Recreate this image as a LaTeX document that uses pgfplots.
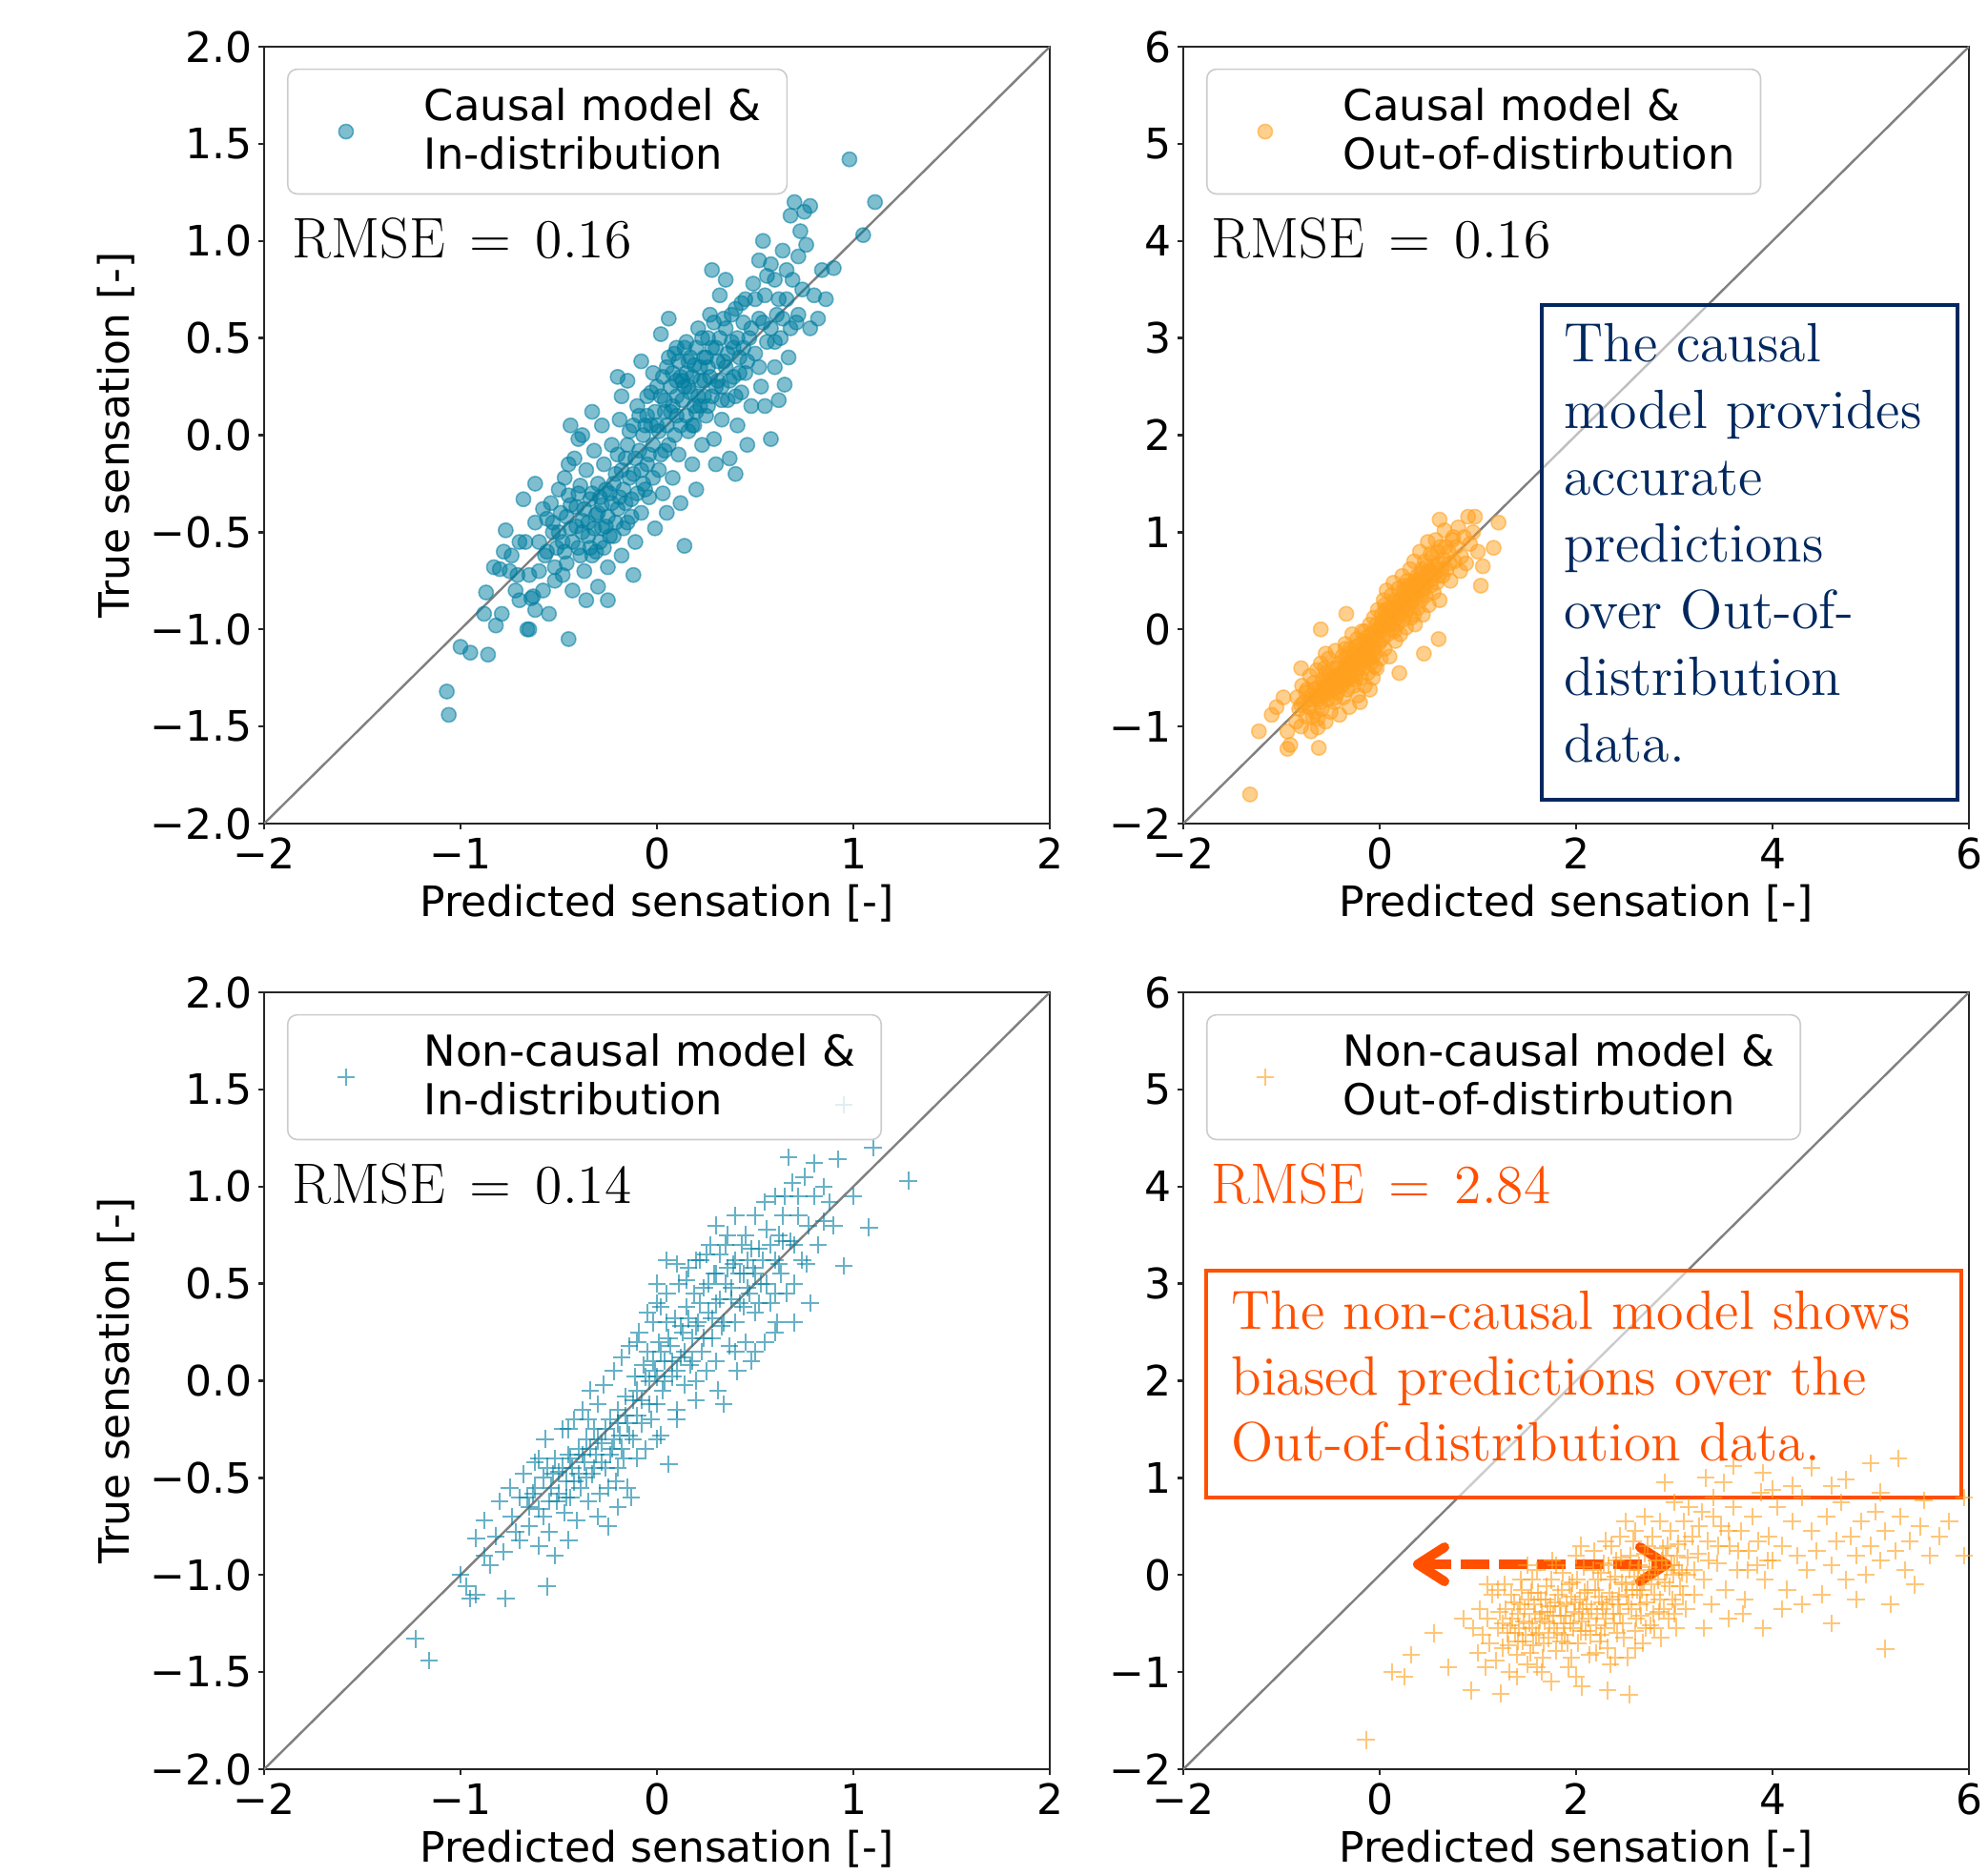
\documentclass[border=0pt]{standalone}
\usepackage{fontspec}
\newfontfamily\dejavu{DejaVu Sans}
\usepackage{pgfplots}
\pgfplotsset{compat=1.18}
\usetikzlibrary{arrows.meta}

\definecolor{cblue}{RGB}{0,125,160}
\definecolor{corange}{RGB}{255,160,30}
\definecolor{redor}{RGB}{255,80,0}
\definecolor{navy}{RGB}{0,40,95}
\definecolor{diag}{RGB}{128,128,128}

\tikzset{rmse/.style={anchor=west, font=\fontsize{15}{17}\selectfont}}

\pgfplotsset{
  panel/.style={
    scale only axis, width=206pt, height=203.75pt,
    axis line style={line width=0.6pt, black!85},
    tick align=outside, major tick length=1.5pt,
    tick style={black!85, line width=0.6pt},
    tick pos=left,
    ticklabel style={font=\dejavu\fontsize{11}{13}\selectfont},
    yticklabel style={xshift=1.8pt},
    xticklabel style={yshift=1.3pt},
    label style={font=\dejavu\fontsize{11}{13}\selectfont},
    xlabel={Predicted sensation [-]},
    xlabel style={at={(axis description cs:0.5,-0.103)}, anchor=center},
    legend cell align=left,
    legend style={at={(0.029,0.972)}, anchor=north west, draw=black!20,
      rounded corners=2.5pt, fill=white, fill opacity=0.8, draw opacity=1,
      text opacity=1, inner xsep=4.8pt, inner ysep=3pt,
      font=\dejavu\fontsize{11.2}{12.7}\selectfont, cells={align=left}},
    legend image code/.code={
      \path[draw=none, fill=none] (0pt,0pt) rectangle (29pt,0pt);
      \draw[mark repeat=2,mark phase=2] plot coordinates {(0pt,0pt) (10.5pt,0pt) (29pt,0pt)};},
  },
  leftpanel/.style={panel, xmin=-2, xmax=2, ymin=-2, ymax=2,
    xtick={-2,-1,0,1,2}, xticklabels={−2,−1,0,1,2},
    ytick={-2,-1.5,-1,-0.5,0,0.5,1,1.5,2},
    yticklabels={−2.0,−1.5,−1.0,−0.5,0.0,0.5,1.0,1.5,2.0},
    ylabel={True sensation [-]},
    ylabel style={at={(axis description cs:-0.188,0.5)}, anchor=center}},
  rightpanel/.style={panel, xmin=-2, xmax=6, ymin=-2, ymax=6,
    xtick={-2,0,2,4,6}, xticklabels={−2,0,2,4,6},
    ytick={-2,-1,0,1,2,3,4,5,6}, yticklabels={−2,−1,0,1,2,3,4,5,6}},
  bluedot/.style={only marks, mark=*, mark size=1.9pt,
    mark options={draw=cblue, fill=cblue, fill opacity=0.5, draw opacity=0.55, line width=0.4pt}},
  orangedot/.style={only marks, mark=*, mark size=1.9pt,
    mark options={draw=corange, fill=corange, fill opacity=0.5, draw opacity=0.55, line width=0.4pt}},
  blueplus/.style={only marks, mark=+, mark size=2.3pt,
    mark options={draw=cblue, draw opacity=0.6, line width=0.5pt}},
  orangeplus/.style={only marks, mark=+, mark size=2.3pt,
    mark options={draw=corange, draw opacity=0.6, line width=0.5pt}},
}

\begin{document}
\begin{tikzpicture}
\path[use as bounding box] (0,0) rectangle (521.25pt,-491.75pt);

% causal, in-distribution
\begin{axis}[leftpanel, at={(69.25pt,-12.25pt)}, anchor=north west]
\addplot[diag, line width=0.6pt, forget plot] coordinates {(-2,-2) (2,2)};
\addplot[bluedot] coordinates {
(-1.07,-1.32) (-1.06,-1.44) (-1.00,-1.09) (-0.95,-1.12) (-0.86,-1.13) (-0.83,-0.68) (-0.80,-0.69) (-0.88,-0.92) (-0.82,-0.98) (-0.78,-0.60)
(-0.87,-0.81) (-0.79,-0.92) (-0.65,-1.00) (-0.63,-0.83)
(-0.74,-0.62) (-0.72,-0.80) (-0.70,-0.55) (-0.66,-1.00) (-0.64,-0.84) (-0.62,-0.45) (-0.60,-0.70) (-0.58,-0.38) (-0.57,-0.62) (-0.55,-0.92)
(-0.53,-0.50) (-0.52,-0.75) (-0.50,-0.28) (-0.68,-0.33) (-0.62,-0.25) (-0.56,-0.43) (-0.51,-0.58) (-0.77,-0.49) (-0.71,-0.72) (-0.45,-1.05)
(-0.49,-0.40) (-0.48,-0.55) (-0.47,-0.22) (-0.46,-0.66) (-0.45,-0.31) (-0.44,-0.48) (-0.43,-0.80) (-0.42,-0.12) (-0.41,-0.37) (-0.40,-0.58)
(-0.39,-0.26) (-0.38,-0.44) (-0.37,-0.70) (-0.36,-0.18) (-0.35,-0.52) (-0.34,-0.33) (-0.33,-0.62) (-0.32,-0.08) (-0.31,-0.41) (-0.30,-0.25)
(-0.29,-0.55) (-0.28,-0.36) (-0.27,-0.15) (-0.26,-0.47) (-0.25,-0.68) (-0.36,-0.85) (-0.30,-0.78) (-0.44,0.05) (-0.40,-0.02) (-0.33,0.12)
(-0.24,-0.30) (-0.23,-0.05) (-0.22,-0.52) (-0.21,-0.20) (-0.20,-0.38) (-0.19,0.08) (-0.18,-0.62) (-0.17,-0.28) (-0.16,-0.12) (-0.15,-0.45)
(-0.14,0.02) (-0.13,-0.33) (-0.12,-0.20) (-0.11,-0.55) (-0.10,0.15) (-0.09,-0.08) (-0.08,-0.40) (-0.07,-0.25) (-0.06,0.05) (-0.05,-0.15)
(-0.04,-0.32) (-0.03,0.22) (-0.02,-0.05) (-0.01,-0.48) (-0.20,0.30) (-0.15,0.28) (-0.08,0.38) (-0.12,-0.72) (-0.05,0.10) (-0.02,0.32)
(0.00,0.05) (0.01,-0.18) (0.02,0.20) (0.03,-0.30) (0.04,0.12) (0.05,0.35) (0.06,-0.05) (0.07,0.25) (0.08,-0.22) (0.09,0.42)
(0.10,0.10) (0.11,-0.10) (0.12,0.30) (0.13,0.18) (0.14,-0.57) (0.15,0.48) (0.16,0.02) (0.17,0.22) (0.18,-0.15) (0.19,0.36)
(0.20,0.12) (0.21,0.55) (0.22,0.28) (0.23,-0.05) (0.24,0.40) (0.02,0.52) (0.06,0.60) (0.10,0.45) (0.14,0.25) (0.18,0.05)
(0.22,0.15) (0.12,-0.35) (0.20,-0.28) (0.08,0.15) (0.16,0.38) (0.24,0.20) (0.04,-0.08) (0.10,0.28) (0.15,0.32) (0.19,0.15)
(0.25,0.10) (0.26,0.35) (0.27,0.62) (0.28,0.20) (0.29,-0.02) (0.30,0.45) (0.31,0.28) (0.32,0.72) (0.33,0.08) (0.34,0.38)
(0.35,0.55) (0.36,0.18) (0.37,-0.12) (0.38,0.48) (0.39,0.30) (0.40,0.65) (0.41,0.05) (0.42,0.40) (0.43,0.22) (0.44,0.58)
(0.45,0.32) (0.46,-0.05) (0.47,0.50) (0.48,0.15) (0.49,0.78) (0.28,0.85) (0.35,0.80) (0.30,-0.15) (0.40,-0.20) (0.45,0.70)
(0.26,0.50) (0.33,0.25)
(0.50,0.42) (0.52,0.60) (0.53,0.25) (0.55,0.72) (0.56,0.48) (0.58,0.88) (0.60,0.35) (0.61,0.62) (0.63,0.50) (0.64,0.95)
(0.66,0.70) (0.67,0.40) (0.69,0.80) (0.70,1.20) (0.71,0.58) (0.73,1.05) (0.74,0.75) (0.55,0.15) (0.58,-0.02) (0.62,0.18)
(0.65,0.26) (0.52,0.90) (0.60,0.80) (0.72,0.92) (0.68,1.13) (0.75,1.15) (0.72,0.62) (0.54,1.00)
(0.76,0.98) (0.78,1.18) (0.80,0.72) (0.82,0.60) (0.84,0.85) (0.90,0.86) (0.98,1.42) (1.05,1.03) (1.11,1.20) (0.78,0.55) (0.86,0.70)
(-0.46,-0.42) (-0.44,-0.36) (-0.43,-0.55) (-0.41,-0.47) (-0.40,-0.30) (-0.39,-0.62) (-0.38,-0.50) (-0.37,-0.38) (-0.35,-0.45) (-0.34,-0.58)
(-0.33,-0.30) (-0.32,-0.48) (-0.31,-0.60) (-0.30,-0.40) (-0.29,-0.32) (-0.28,-0.48) (-0.27,-0.58) (-0.26,-0.28) (-0.25,-0.42) (-0.24,-0.52)
(-0.23,-0.35) (-0.22,-0.25) (-0.21,-0.45) (-0.20,-0.10) (-0.19,-0.32) (-0.18,-0.18) (-0.17,-0.48) (-0.16,-0.35) (-0.15,-0.05) (-0.14,-0.22)
(-0.13,-0.42) (-0.12,0.05) (-0.11,-0.12) (-0.10,-0.30) (-0.09,0.10) (-0.08,-0.18) (-0.07,0.00) (-0.06,-0.28) (-0.05,0.20) (-0.04,-0.10)
(-0.03,0.05) (-0.02,-0.22) (-0.01,0.12) (0.00,0.25) (0.01,0.02) (0.02,-0.10) (0.03,0.30) (0.04,0.18) (0.05,0.05) (0.06,0.40)
(0.07,0.12) (0.08,0.32) (0.09,0.00) (0.10,0.20) (0.11,0.38) (0.12,0.05) (0.13,0.28) (0.14,0.45) (0.15,0.10) (0.16,0.25)
(0.17,0.40) (0.18,0.30) (0.19,0.05) (0.20,0.45) (0.21,0.20) (0.22,0.35) (0.23,0.50) (0.24,0.28) (0.25,0.40) (0.26,0.15)
(0.27,0.30) (0.28,0.45) (0.29,0.58) (0.30,0.25) (0.31,0.38) (0.32,0.50) (0.33,0.18) (0.34,0.60) (0.35,0.35) (0.36,0.42)
(0.37,0.28) (0.38,0.62) (0.39,0.45) (0.40,0.20) (0.41,0.50) (0.42,0.32) (0.43,0.68) (0.44,0.45) (0.46,0.38) (0.48,0.55)
(0.50,0.70) (0.52,0.35) (0.54,0.58) (0.56,0.82) (0.58,0.55) (0.60,0.48) (0.62,0.70) (0.64,0.60) (0.66,0.85) (0.68,0.55)
(-0.60,-0.55) (-0.58,-0.80) (-0.56,-0.60) (-0.54,-0.35) (-0.52,-0.68) (-0.50,-0.50) (-0.48,-0.72) (-0.47,-0.60) (-0.53,-0.45) (-0.65,-0.72)
(-0.70,-0.85) (-0.75,-0.70) (-0.67,-0.55) (-0.62,-0.90) (-0.45,-0.15) (-0.38,0.00) (-0.28,0.05) (-0.25,-0.85) (-0.18,0.20) (0.05,-0.40)
};
\addlegendentry{Causal model \&\\In-distribution}
\node[rmse] at (rel axis cs:0.019,0.753) {$\mathrm{RMSE} \mkern3mu=\mkern3mu 0.16$};
\end{axis}

% causal, out-of-distribution
\begin{axis}[rightpanel, at={(310.25pt,-12.25pt)}, anchor=north west]
\addplot[diag, line width=0.6pt, forget plot] coordinates {(-2,-2) (6,6)};
\addplot[orangedot] coordinates {
(-1.32,-1.70) (-1.23,-1.05) (-0.94,-1.05) (-0.94,-1.23) (-0.91,-1.19) (-0.63,-1.01) (-0.62,-1.22) (-0.34,0.16) (0.61,1.13) (0.90,1.16)
(0.97,1.16) (1.21,1.10) (1.16,0.84) (1.03,0.45) (0.82,0.60) (1.05,0.65) (-1.05,-0.80) (-1.10,-0.88) (-0.98,-0.70) (-0.80,-0.40)
(-0.55,-0.25) (-0.60,0.00) (-0.35,-0.30) (0.60,-0.10) (0.45,-0.25) (-0.20,-0.75) (-0.10,-0.62) (0.20,-0.45)
(-0.85,-0.95) (-0.84,-0.70) (-0.82,-0.82) (-0.80,-1.00) (-0.79,-0.58)
(-0.77,-0.75) (-0.75,-0.90) (-0.74,-0.62) (-0.72,-0.80) (-0.71,-0.48) (-0.70,-1.05) (-0.69,-0.68)
(-0.67,-0.55) (-0.66,-0.85) (-0.65,-0.70) (-0.64,-0.42) (-0.63,-0.92) (-0.62,-0.60) (-0.61,-0.75) (-0.60,-0.35)
(-0.59,-0.82) (-0.58,-0.52) (-0.57,-0.65) (-0.56,-0.40) (-0.55,-0.95) (-0.54,-0.58) (-0.53,-0.72) (-0.52,-0.30) (-0.51,-0.48) (-0.50,-0.85)
(-0.49,-0.62) (-0.48,-0.40) (-0.47,-0.55) (-0.46,-0.75) (-0.45,-0.22) (-0.44,-0.50) (-0.43,-0.65) (-0.42,-0.35) (-0.41,-0.88) (-0.40,-0.45)
(-0.39,-0.58) (-0.38,-0.28) (-0.37,-0.70) (-0.36,-0.42) (-0.35,-0.15) (-0.34,-0.52) (-0.33,-0.62) (-0.32,-0.35) (-0.31,-0.80) (-0.30,-0.20)
(-0.29,-0.48) (-0.28,-0.05)
(-0.27,-0.38) (-0.26,-0.58) (-0.25,-0.25) (-0.24,-0.45) (-0.23,-0.10) (-0.22,-0.68) (-0.21,-0.32) (-0.20,-0.15) (-0.19,-0.50) (-0.18,-0.02)
(-0.17,-0.40) (-0.16,-0.22)
(-0.15,-0.58) (-0.14,-0.30) (-0.13,-0.08) (-0.12,-0.45) (-0.11,-0.18) (-0.10,0.05) (-0.09,-0.35) (-0.08,-0.12) (-0.07,-0.50) (-0.06,0.12)
(-0.05,-0.25) (-0.04,-0.02) (-0.03,-0.40) (-0.02,0.20) (-0.01,-0.15)
(0.00,0.02) (0.01,-0.30) (0.02,0.15) (0.03,-0.10) (0.04,0.30) (0.05,-0.20) (0.06,0.08) (0.07,0.40) (0.08,-0.05) (0.09,0.22)
(0.10,-0.28) (0.11,0.12) (0.12,0.35) (0.13,0.00) (0.14,0.48)
(0.15,0.18) (0.16,-0.12) (0.17,0.28) (0.18,0.05) (0.19,0.42) (0.20,0.15) (0.21,-0.05) (0.22,0.32) (0.23,0.55) (0.24,0.10)
(0.25,0.25) (0.26,0.40) (0.27,0.02)
(0.28,0.50) (0.29,0.20) (0.30,0.35) (0.31,0.62) (0.32,0.12) (0.33,0.45) (0.34,0.28) (0.35,0.70) (0.36,0.05) (0.37,0.38)
(0.38,0.55) (0.39,0.22) (0.40,0.48)
(0.41,0.80) (0.42,0.30) (0.43,0.62) (0.44,0.15) (0.45,0.42) (0.46,0.70) (0.47,0.35) (0.48,0.55) (0.49,0.90) (0.50,0.25)
(0.51,0.60) (0.52,0.45)
(0.54,0.75) (0.55,0.38) (0.56,0.58) (0.57,0.92) (0.58,0.48) (0.60,0.68) (0.61,0.30) (0.62,0.85) (0.64,0.55) (0.65,0.72)
(0.66,1.02) (0.68,0.62) (0.70,0.80)
(0.72,0.50) (0.74,0.92) (0.76,0.70) (0.78,0.85) (0.80,1.05) (0.83,0.75) (0.86,0.95) (0.88,0.68) (0.92,0.88) (0.95,1.00) (1.00,0.80)
(-0.42,-0.52) (-0.38,-0.45) (-0.33,-0.40) (-0.31,-0.25) (-0.27,-0.30) (-0.24,-0.18) (-0.21,-0.40) (-0.18,-0.28) (-0.15,-0.12) (-0.12,-0.25)
(-0.09,-0.05) (-0.06,-0.20) (-0.03,0.05) (0.00,-0.12) (0.03,0.08) (0.06,0.20) (0.09,0.05) (0.12,0.20) (0.15,0.30) (0.18,0.15)
(0.21,0.25) (0.24,0.38) (0.27,0.18) (0.30,0.45) (0.33,0.30) (0.36,0.50) (0.39,0.40) (0.42,0.58) (0.45,0.50) (0.48,0.65)
(-0.48,-0.50) (-0.52,-0.62) (-0.56,-0.55) (-0.60,-0.68) (-0.45,-0.60) (-0.36,-0.55) (-0.28,-0.50) (-0.20,-0.35) (-0.10,-0.30) (0.05,0.00)
(-0.70,-0.72) (-0.66,-0.62) (-0.62,-0.72) (-0.58,-0.60) (-0.54,-0.66) (-0.50,-0.55) (-0.46,-0.48) (-0.44,-0.40) (-0.40,-0.55) (-0.37,-0.48)
(-0.34,-0.35) (-0.30,-0.42) (-0.26,-0.32) (-0.23,-0.25) (-0.19,-0.20) (-0.16,-0.32) (-0.13,-0.18) (-0.10,-0.12) (-0.07,-0.28) (-0.04,-0.08)
(-0.01,-0.02) (0.02,0.05) (0.05,0.12) (0.08,0.15) (0.11,0.05) (0.14,0.22) (0.17,0.12) (0.20,0.30) (0.23,0.22) (0.26,0.32)
(0.29,0.40) (0.32,0.28) (0.35,0.45) (0.38,0.35) (0.41,0.52) (0.44,0.40) (0.47,0.48) (0.50,0.60) (0.53,0.52) (0.56,0.65)
(-0.55,-0.45) (-0.35,-0.20) (-0.15,-0.02) (0.05,0.25) (0.25,0.45) (-0.45,-0.70) (-0.25,-0.52) (-0.05,-0.38) (0.15,-0.02) (0.35,0.15)
(0.59,0.80) (0.63,0.62) (0.67,0.85) (0.71,0.68) (0.60,0.55) (-0.75,-0.65) (-0.80,-0.78) (-0.68,-0.90) (0.75,0.95) (0.52,0.78)
};
\addlegendentry{Causal model \&\\Out-of-distirbution}
\node[rmse] at (rel axis cs:0.019,0.753) {$\mathrm{RMSE} \mkern3mu=\mkern3mu 0.16$};
\node[draw=navy, line width=0.9pt, fill=white, fill opacity=0.5, text opacity=1,
  anchor=north west, inner xsep=6pt, inner ysep=4.5pt, text width=97pt, align=left,
  minimum height=129.75pt, text=navy, font=\fontsize{14.5}{17.5}\selectfont]
  at (rel axis cs:0.454,0.670) {The causal\\model provides\\accurate\\predictions\\over Out-of-\\distribution\\data.\par\vspace{5pt}};
\end{axis}

% non-causal, in-distribution
\begin{axis}[leftpanel, at={(69.25pt,-260.25pt)}, anchor=north west]
\addplot[diag, line width=0.6pt, forget plot] coordinates {(-2,-2) (2,2)};
\addplot[blueplus] coordinates {
(-1.23,-1.33) (-1.16,-1.44) (-1.00,-1.00) (-0.97,-1.06) (-0.95,-1.12) (-0.92,-1.10) (-0.92,-0.81) (-0.77,-1.12) (-0.56,-1.06) (-0.85,-0.95)
(-0.78,-0.88) (-0.88,-0.72) (-0.74,-0.70) (-0.70,-0.82) (-0.66,-0.60) (-0.80,-0.62)
(-0.68,-0.48) (-0.65,-0.75) (-0.63,-0.58) (-0.62,-0.42) (-0.60,-0.66) (-0.58,-0.50) (-0.57,-0.30) (-0.55,-0.78) (-0.54,-0.55) (-0.52,-0.40)
(-0.51,-0.62) (-0.50,-0.47) (-0.48,-0.25) (-0.47,-0.68) (-0.46,-0.52) (-0.45,-0.38) (-0.44,-0.60) (-0.43,-0.45) (-0.42,-0.20) (-0.41,-0.72)
(-0.40,-0.35) (-0.60,-0.85) (-0.52,-0.90) (-0.45,-0.82)
(-0.39,-0.55) (-0.38,-0.15) (-0.37,-0.42) (-0.36,-0.30) (-0.35,-0.62) (-0.34,-0.05) (-0.33,-0.48) (-0.32,-0.25) (-0.31,-0.38) (-0.30,-0.12)
(-0.29,-0.58) (-0.28,-0.32) (-0.27,-0.02) (-0.26,-0.45) (-0.25,-0.75) (-0.24,-0.20) (-0.23,-0.35) (-0.22,0.05) (-0.21,-0.52) (-0.20,-0.15)
(-0.19,-0.28) (-0.18,0.12) (-0.17,-0.40) (-0.16,-0.08) (-0.15,-0.22) (-0.14,0.18) (-0.13,-0.60) (-0.12,-0.30) (-0.11,0.02) (-0.10,-0.18)
(-0.30,-0.70) (-0.20,-0.65) (-0.15,-0.55)
(-0.09,0.25) (-0.08,-0.10) (-0.07,0.08) (-0.06,-0.35) (-0.05,0.15) (-0.04,0.00) (-0.03,-0.20) (-0.02,0.30) (-0.01,0.05) (0.00,-0.12)
(0.01,0.20) (0.02,0.38) (0.03,-0.05) (0.04,0.10) (0.05,0.45) (0.06,-0.43) (0.07,0.18) (0.08,0.02) (0.09,0.32) (0.10,-0.15)
(0.11,0.50) (0.12,0.12) (0.13,0.25) (0.14,-0.02) (0.15,0.38) (0.16,0.58) (0.17,0.08) (0.18,0.22) (0.19,0.45) (0.20,-0.10)
(0.00,0.50) (0.05,0.62) (0.10,0.60) (0.02,-0.28)
(0.21,0.30) (0.22,0.62) (0.23,0.15) (0.24,0.48) (0.25,0.05) (0.26,0.35) (0.27,0.70) (0.28,0.22) (0.29,0.55) (0.30,0.40)
(0.31,-0.05) (0.32,0.65) (0.33,0.28) (0.34,-0.12) (0.35,0.50) (0.36,0.75) (0.37,0.18) (0.38,0.42) (0.39,0.60) (0.40,0.30)
(0.41,0.05) (0.42,0.55) (0.43,0.70) (0.44,0.38) (0.45,0.20) (0.46,0.62) (0.47,0.45) (0.48,0.10) (0.49,0.58) (0.30,0.80) (0.40,0.85)
(0.50,0.35) (0.52,0.68) (0.53,0.50) (0.55,0.20) (0.56,0.78) (0.58,0.40) (0.60,0.62) (0.61,0.30) (0.63,0.55) (0.64,0.85)
(0.66,0.45) (0.67,1.15) (0.68,0.72) (0.69,1.02) (0.70,0.50) (0.72,0.95) (0.74,0.62) (0.75,1.05) (0.77,0.80) (0.78,0.40)
(0.55,0.92) (0.62,0.75)
(0.80,1.12) (0.82,0.70) (0.85,1.00) (0.88,0.92) (0.92,1.14) (0.95,0.59) (0.95,1.42) (1.08,0.79) (1.10,1.20) (1.28,1.03) (0.90,0.80) (1.00,0.95)
(-0.55,-0.62) (-0.53,-0.48) (-0.50,-0.58) (-0.48,-0.45) (-0.46,-0.60) (-0.44,-0.40) (-0.42,-0.52) (-0.40,-0.48) (-0.38,-0.38) (-0.36,-0.50)
(-0.34,-0.35) (-0.32,-0.45) (-0.30,-0.30) (-0.28,-0.42) (-0.26,-0.25) (-0.24,-0.38) (-0.22,-0.30) (-0.20,-0.22) (-0.18,-0.35) (-0.16,-0.18)
(-0.14,-0.28) (-0.12,-0.10) (-0.10,-0.05) (-0.08,-0.22) (-0.06,0.02) (-0.04,-0.12) (-0.02,0.10) (0.00,0.02) (0.02,0.15) (0.04,0.00)
(0.06,0.22) (0.08,0.10) (0.10,0.05) (0.12,0.28) (0.14,0.15) (0.16,0.32) (0.18,0.10) (0.20,0.28) (0.22,0.40) (0.24,0.22)
(0.26,0.50) (0.28,0.32) (0.30,0.55) (0.32,0.42) (0.34,0.30) (0.36,0.58) (0.38,0.48) (0.40,0.62) (0.42,0.40) (0.44,0.55)
(0.46,0.48) (0.48,0.68) (0.50,0.55) (0.52,0.40) (0.54,0.62) (0.56,0.50) (0.58,0.70) (0.60,0.45) (0.62,0.60) (0.64,0.72)
(-0.65,-0.65) (-0.62,-0.55) (-0.58,-0.70) (-0.56,-0.45) (-0.60,-0.40) (-0.70,-0.60) (-0.72,-0.78) (-0.82,-0.80) (-0.88,-0.90) (-0.75,-0.55)
(-0.05,0.35) (0.00,0.40) (0.05,0.30) (-0.10,0.20) (0.15,0.52) (0.20,0.62) (0.25,0.65) (0.35,0.70) (0.45,0.75) (0.50,0.85)
(-0.25,-0.55) (-0.20,-0.45) (-0.10,-0.40) (0.00,-0.30) (0.10,-0.20) (0.20,0.00) (0.30,0.10) (0.40,0.15) (0.50,0.15) (0.60,0.25)
(0.70,0.70) (0.72,0.85) (0.65,0.95) (0.60,0.95) (0.80,0.95) (0.76,0.60) (0.85,0.82) (0.70,0.30) (-0.35,-0.20) (-0.45,-0.25)
};
\addlegendentry{Non-causal model \&\\In-distribution}
\node[rmse] at (rel axis cs:0.019,0.753) {$\mathrm{RMSE} \mkern3mu=\mkern3mu 0.14$};
\end{axis}

% non-causal, out-of-distribution
\begin{axis}[rightpanel, at={(310.25pt,-260.25pt)}, anchor=north west]
\addplot[diag, line width=0.6pt, forget plot] coordinates {(-2,-2) (6,6)};
\addplot[orangeplus] coordinates {
(-0.14,-1.70) (0.13,-1.00) (0.25,-1.05) (0.32,-0.82) (0.93,-1.19) (1.23,-1.22) (2.06,-1.15) (2.32,-1.19) (2.54,-1.23) (2.35,-0.92)
(5.15,-0.76) (5.45,-0.10) (5.54,0.77) (5.28,1.20) (0.70,-0.95) (0.55,-0.60) (0.85,-0.45) (1.75,-1.10) (3.55,-0.45) (4.10,-0.35)
(4.60,-0.50) (3.90,-0.55)
(3.32,1.00) (3.90,1.05) (4.40,1.10) (4.75,0.98) (3.60,1.12) (5.00,1.15) (2.90,0.95) (4.20,0.92)
(0.95,-0.55) (1.00,-0.80) (1.02,-0.35) (1.05,-0.62) (1.08,-0.95) (1.10,-0.45) (1.12,-0.70) (1.15,-0.20) (1.18,-0.88) (1.20,-0.55)
(1.22,-0.38) (1.25,-0.75) (1.27,-0.10) (1.30,-0.60) (1.32,-1.00) (1.35,-0.45) (1.37,-0.28) (1.40,-0.82) (1.42,-0.55) (1.44,-0.05)
(1.46,-0.68) (1.48,-0.35) (1.50,-0.92) (1.52,-0.50) (1.54,-0.18) (1.56,-0.72) (1.58,-0.40) (1.60,0.05) (1.62,-0.60) (1.64,-0.25)
(1.66,-0.85) (1.68,-0.48) (1.70,-0.12) (1.72,-0.65) (1.74,-0.32) (1.76,0.15) (1.78,-0.55) (1.80,-0.78) (1.82,-0.20) (1.84,-0.42)
(1.86,0.02) (1.88,-0.62) (1.90,-0.30) (1.92,-0.95) (1.94,-0.50) (1.96,-0.08) (1.98,-0.38) (2.00,0.20) (2.02,-0.70) (2.04,-0.25)
(2.06,-0.48) (2.08,0.08) (2.10,-0.58) (2.12,-0.15) (2.14,-0.82) (2.16,-0.35) (2.18,0.25) (2.20,-0.52) (2.22,-0.05) (2.24,-0.68)
(2.26,-0.28) (2.28,0.12) (2.30,-0.45) (2.32,-0.75) (2.34,-0.18) (2.36,0.30) (2.38,-0.40) (2.40,-0.02) (2.42,-0.60) (2.44,-0.22)
(2.46,0.18) (2.48,-0.50) (2.50,-0.10) (2.52,-0.85) (2.54,0.05) (2.56,-0.35) (2.58,0.35) (2.60,-0.58) (2.62,-0.15) (2.64,0.10)
(2.66,-0.42) (2.68,-0.70) (2.70,0.22) (2.72,-0.28) (2.74,0.00) (2.76,-0.52) (2.78,0.40) (2.80,-0.20) (2.82,0.15) (2.84,-0.38)
(2.86,-0.65) (2.88,0.28) (2.90,-0.08) (2.92,0.05) (2.94,-0.45) (2.96,0.45) (2.98,-0.25) (3.00,0.10) (3.02,-0.55) (3.04,0.32)
(3.06,-0.12) (3.08,0.02) (3.10,0.55) (3.12,-0.35) (3.14,0.18)
(1.33,-0.52) (1.41,-0.40) (1.49,-0.62) (1.57,-0.30) (1.63,-0.45) (1.71,-0.38) (1.79,-0.28) (1.87,-0.50) (1.95,-0.22) (2.03,-0.40)
(2.11,-0.30) (2.19,-0.15) (2.27,-0.35) (2.35,-0.05) (2.43,-0.30) (2.51,-0.20) (2.59,-0.02) (2.67,-0.15) (2.75,0.08) (2.83,-0.05)
(2.91,0.20) (2.99,0.00) (1.45,-0.15) (1.85,-0.68) (2.25,-0.62) (2.65,-0.30) (1.65,-1.00) (2.00,-1.05) (1.55,-0.05) (2.45,0.40)
(3.18,0.40) (3.20,-0.20) (3.24,0.22) (3.28,0.65) (3.30,-0.05) (3.34,0.35) (3.38,-0.30) (3.40,0.80) (3.44,0.12) (3.48,0.50)
(3.52,-0.15) (3.56,0.30) (3.60,0.70) (3.64,0.05) (3.68,0.45) (3.72,-0.25) (3.76,0.25) (3.80,0.60) (3.84,0.10) (3.88,0.85)
(3.92,-0.05) (3.96,0.40) (4.00,0.15) (4.05,0.70) (4.10,0.30) (4.15,-0.15) (4.20,0.55) (4.25,0.20) (4.30,0.80) (4.35,0.05)
(4.40,0.45) (4.45,0.25) (4.50,-0.20) (4.55,0.60) (4.60,0.10) (4.65,0.35) (4.70,0.75) (4.75,-0.05) (4.80,0.40) (4.85,0.20)
(4.90,0.55) (4.95,0.00) (5.00,0.30) (5.05,0.65) (5.10,0.15) (5.15,0.45) (5.20,-0.30) (5.25,0.25) (5.30,0.60) (5.35,0.05)
(5.40,0.35) (5.50,0.50) (5.60,0.20) (5.70,0.40) (5.80,0.55) (5.95,0.80) (5.95,0.20) (3.50,0.95) (4.00,0.88) (4.60,0.92)
(5.10,0.85) (3.30,-0.55) (3.70,-0.40) (4.30,-0.30) (4.85,-0.25)
(1.25,-0.50) (1.28,-0.35) (1.31,-0.72) (1.34,-0.20) (1.38,-0.60) (1.41,-0.68) (1.43,-0.30) (1.47,-0.48) (1.51,-0.25) (1.53,-0.80)
(1.55,-0.55) (1.59,-0.62) (1.61,-0.18) (1.65,-0.38) (1.67,-0.70) (1.69,-0.25) (1.73,-0.50) (1.75,-0.05) (1.77,-0.42) (1.81,-0.60)
(1.83,-0.32) (1.85,-0.15) (1.89,-0.42) (1.91,-0.70) (1.93,-0.10) (1.97,-0.55) (1.99,-0.28) (2.01,-0.05) (2.05,-0.58) (2.07,-0.35)
(2.09,-0.18) (2.13,-0.45) (2.15,-0.62) (2.17,0.05) (2.21,-0.40) (2.23,-0.22) (2.25,0.02) (2.29,-0.55) (2.31,-0.30) (2.33,0.10)
(2.37,-0.25) (2.39,-0.50) (2.41,0.15) (2.45,-0.40) (2.47,-0.08) (2.49,-0.65) (2.53,-0.30) (2.55,0.20) (2.57,-0.15) (2.61,-0.45)
(2.63,0.05) (2.65,-0.20) (2.69,-0.05) (2.71,-0.55) (2.73,0.30) (2.77,-0.10) (2.79,-0.40) (2.81,0.05) (2.85,-0.25) (2.87,0.15)
(2.89,-0.35) (2.93,0.30) (2.95,-0.12) (2.97,0.10) (3.01,-0.30) (3.03,0.20) (3.05,0.05) (3.09,-0.20) (3.11,0.35) (3.13,0.00)
(1.20,-0.15) (1.40,-1.05) (1.60,-0.95) (1.95,-0.85) (2.20,-0.80) (2.40,-0.85) (2.60,-0.75) (2.80,-0.55) (3.00,-0.40) (3.20,0.05)
(3.25,0.50) (3.35,0.15) (3.45,0.30) (3.55,0.45) (3.65,0.25) (3.75,0.05) (3.85,0.35) (3.95,0.15) (2.60,0.45) (2.85,0.55)
(2.30,0.35) (2.05,0.30) (1.80,0.10) (1.50,0.10) (1.10,-0.10) (3.15,0.70) (3.40,0.60) (2.70,0.60) (3.00,0.75) (2.50,0.55)
};
\addlegendentry{Non-causal model \&\\Out-of-distirbution}
\node[rmse, text=redor] at (rel axis cs:0.019,0.753) {$\mathrm{RMSE} \mkern3mu=\mkern3mu 2.84$};
\node[draw=redor, line width=0.9pt, fill=white, fill opacity=0.6, text opacity=1,
  anchor=north west, inner xsep=6.6pt, inner ysep=4pt, text width=184.8pt, align=left,
  minimum height=59.5pt, text=redor, font=\fontsize{14.5}{17.3}\selectfont]
  at (rel axis cs:0.027,0.644) {The non-causal model shows\\biased predictions over the\\Out-of-distribution data.\par\vspace{4pt}};
\draw[redor, line width=2.5pt, dash pattern=on 7.5pt off 2.5pt,
  {Straight Barb[length=7pt,width=9pt,round]}-{Straight Barb[length=7pt,width=9pt,round]}]
  (axis cs:0.34,0.11) -- (axis cs:2.97,0.11);
\end{axis}
\end{tikzpicture}
\end{document}
